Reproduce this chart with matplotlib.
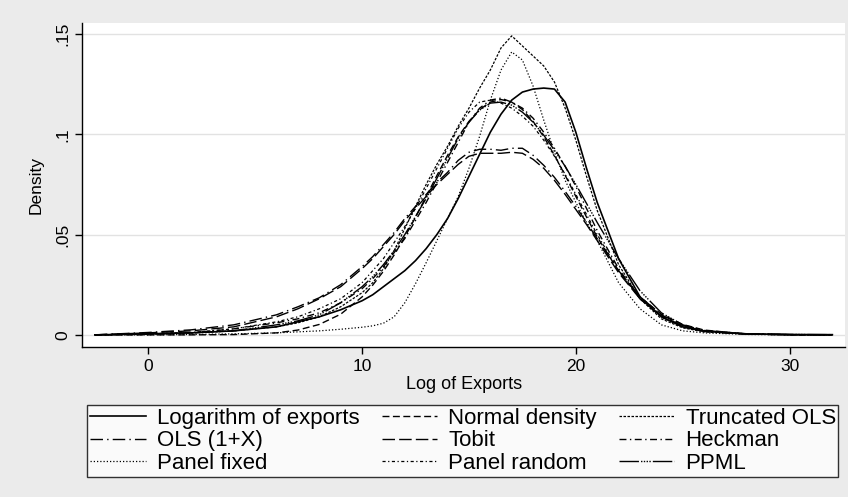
import matplotlib
matplotlib.use("Agg")
import matplotlib.pyplot as plt

plt.rcParams['font.family'] = ['Liberation Sans', 'DejaVu Sans']

x = [-2.5, 0, 2, 4, 6, 7, 8, 9, 10, 10.5, 11, 11.5, 12, 12.5, 13, 13.5, 14, 14.5, 15, 15.5, 16, 16.5, 17,
     17.5, 18, 18.5, 19, 19.5, 20, 20.5, 21, 22, 23, 24, 25, 26, 28, 30, 32]

log_exports = [0, 0.0005, 0.001, 0.002, 0.004, 0.0065, 0.009, 0.0125, 0.017, 0.020, 0.024, 0.028, 0.032,
               0.037, 0.043, 0.050, 0.058, 0.068, 0.079, 0.090, 0.101, 0.110, 0.117, 0.121, 0.1225,
               0.123, 0.1225, 0.116, 0.101, 0.083, 0.066, 0.038, 0.019, 0.009, 0.004, 0.0018, 0.0005,
               0.0002, 0.0001]
normal_density = [0, 0, 0, 0.00014, 0.0010, 0.0024, 0.0052, 0.0103, 0.0189, 0.0248, 0.0317, 0.0398,
                  0.0488, 0.0586, 0.0690, 0.0794, 0.0895, 0.0987, 0.1064, 0.1123, 0.1160, 0.1173,
                  0.1160, 0.1123, 0.1064, 0.0987, 0.0895, 0.0795, 0.0690, 0.0587, 0.0488, 0.0317,
                  0.0189, 0.0103, 0.0052, 0.0024, 0.0004, 0.00005, 0]
truncated_ols = [0, 0.0005, 0.001, 0.002, 0.004, 0.006, 0.009, 0.014, 0.021, 0.026, 0.033, 0.042, 0.053,
                 0.064, 0.075, 0.085, 0.094, 0.104, 0.113, 0.123, 0.132, 0.143, 0.149, 0.144, 0.139,
                 0.134, 0.126, 0.113, 0.097, 0.079, 0.062, 0.035, 0.018, 0.008, 0.0035, 0.0015, 0.0004,
                 0.0001, 0]
ols_1x = [0, 0.0012, 0.0025, 0.005, 0.010, 0.014, 0.0185, 0.025, 0.034, 0.039, 0.045, 0.051, 0.058,
          0.064, 0.070, 0.076, 0.081, 0.087, 0.091, 0.0925, 0.0925, 0.092, 0.093, 0.093, 0.0895,
          0.0845, 0.0785, 0.0715, 0.064, 0.056, 0.048, 0.032, 0.019, 0.010, 0.0047, 0.002, 0.0004,
          0.0001, 0]
tobit = [0, 0.001, 0.002, 0.004, 0.009, 0.013, 0.018, 0.024, 0.033, 0.038, 0.044, 0.050, 0.057,
         0.063, 0.069, 0.075, 0.080, 0.085, 0.089, 0.0905, 0.0905, 0.0905, 0.091, 0.0905, 0.0875,
         0.083, 0.077, 0.070, 0.0625, 0.055, 0.047, 0.031, 0.018, 0.0095, 0.0045, 0.002, 0.0004,
         0.0001, 0]
heckman = [0, 0.0005, 0.001, 0.003, 0.006, 0.008, 0.011, 0.016, 0.023, 0.028, 0.034, 0.041, 0.048,
           0.057, 0.066, 0.076, 0.086, 0.096, 0.106, 0.113, 0.117, 0.118, 0.116, 0.113, 0.108,
           0.101, 0.093, 0.084, 0.074, 0.063, 0.052, 0.033, 0.018, 0.009, 0.004, 0.0018, 0.0004,
           0.0001, 0]
panel_fixed = [0, 0, 0.0002, 0.0005, 0.001, 0.0015, 0.002, 0.0028, 0.0038, 0.0045, 0.0058, 0.0090,
               0.0160, 0.0255, 0.036, 0.047, 0.058, 0.069, 0.083, 0.099, 0.117, 0.132, 0.141, 0.137,
               0.124, 0.107, 0.091, 0.077, 0.066, 0.056, 0.047, 0.026, 0.013, 0.005, 0.002, 0.001,
               0.0002, 0, 0]
panel_random = [0, 0.0005, 0.0012, 0.003, 0.0065, 0.009, 0.013, 0.018, 0.026, 0.032, 0.038, 0.046, 0.054,
                0.063, 0.073, 0.083, 0.093, 0.103, 0.111, 0.116, 0.117, 0.1155, 0.113, 0.109, 0.104,
                0.097, 0.089, 0.080, 0.070, 0.060, 0.050, 0.032, 0.018, 0.009, 0.004, 0.0018, 0.0004,
                0.0001, 0]
ppml = [0, 0.0003, 0.001, 0.002, 0.005, 0.007, 0.010, 0.016, 0.024, 0.029, 0.035, 0.042, 0.050,
        0.059, 0.068, 0.078, 0.088, 0.098, 0.106, 0.112, 0.1155, 0.116, 0.1145, 0.111, 0.106,
        0.0995, 0.092, 0.084, 0.075, 0.0655, 0.056, 0.038, 0.022, 0.011, 0.005, 0.0022, 0.0005,
        0.0002, 0.0001]

labels = ["Logarithm of exports", "Normal density", "Truncated OLS",
          "OLS (1+X)", "Tobit", "Heckman",
          "Panel fixed", "Panel random", "PPML"]
series = [log_exports, normal_density, truncated_ols, ols_1x, tobit, heckman,
          panel_fixed, panel_random, ppml]
styles = [
    dict(linestyle='-', lw=1.2),
    dict(linestyle=(0, (5, 2.5)), lw=1.0),
    dict(linestyle=(0, (2, 1.2)), lw=0.9),
    dict(linestyle=(0, (9, 3, 1, 3)), lw=1.0),
    dict(linestyle=(0, (9, 3)), lw=1.0),
    dict(linestyle=(0, (5, 2.5, 1, 2.5)), lw=1.0),
    dict(linestyle=(0, (1, 1.6)), lw=0.9),
    dict(linestyle=(0, (2.5, 2, 1, 2)), lw=0.9),
    dict(linestyle=(0, (14, 1.5, 1, 1, 1, 1, 1, 1, 1, 1.5)), lw=1.0),
]

fig = plt.figure(figsize=(8.48, 4.97), dpi=100, facecolor='#ebebeb')
ax = fig.add_axes([0.0967, 0.302, 0.90, 0.652])
ax.set_facecolor('white')

handles = []
for y, lab, st in zip(series, labels, styles):
    h, = ax.plot(x, y, color='black', label=lab, **st)
    handles.append(h)

ax.set_xlim(-3.1, 32.6)
ax.set_ylim(-0.006, 0.1555)
ax.set_xticks([0, 10, 20, 30])
ax.set_yticks([0, 0.05, 0.1, 0.15])
ax.set_yticklabels(["0", ".05", ".1", ".15"], rotation=90, va='center')
ax.tick_params(axis='both', labelsize=12.5, length=5, width=1, color='black')
ax.grid(axis='y', color='#e2e2e2', lw=1)
ax.set_axisbelow(True)
for s in ['top', 'right']:
    ax.spines[s].set_visible(False)
for s in ['left', 'bottom']:
    ax.spines[s].set_linewidth(1)
ax.set_xlabel("Log of Exports", fontsize=13, labelpad=2)
ax.set_ylabel("Density", fontsize=12.5, labelpad=8)

# order so that legend fills row-wise like the original
order = [0, 3, 6, 1, 4, 7, 2, 5, 8]
leg = fig.legend([handles[i] for i in order], [labels[i] for i in order],
                 ncol=3, loc='upper left', bbox_to_anchor=(0.103, 1 - 405 / 497),
                 fontsize=16, frameon=True, fancybox=False,
                 edgecolor='black', handlelength=2.5, handletextpad=0.5,
                 borderaxespad=0, labelspacing=0.08, borderpad=0.12, columnspacing=1.0)
leg.get_frame().set_linewidth(1.0)

fig.savefig("out.png", dpi=100, facecolor=fig.get_facecolor())
